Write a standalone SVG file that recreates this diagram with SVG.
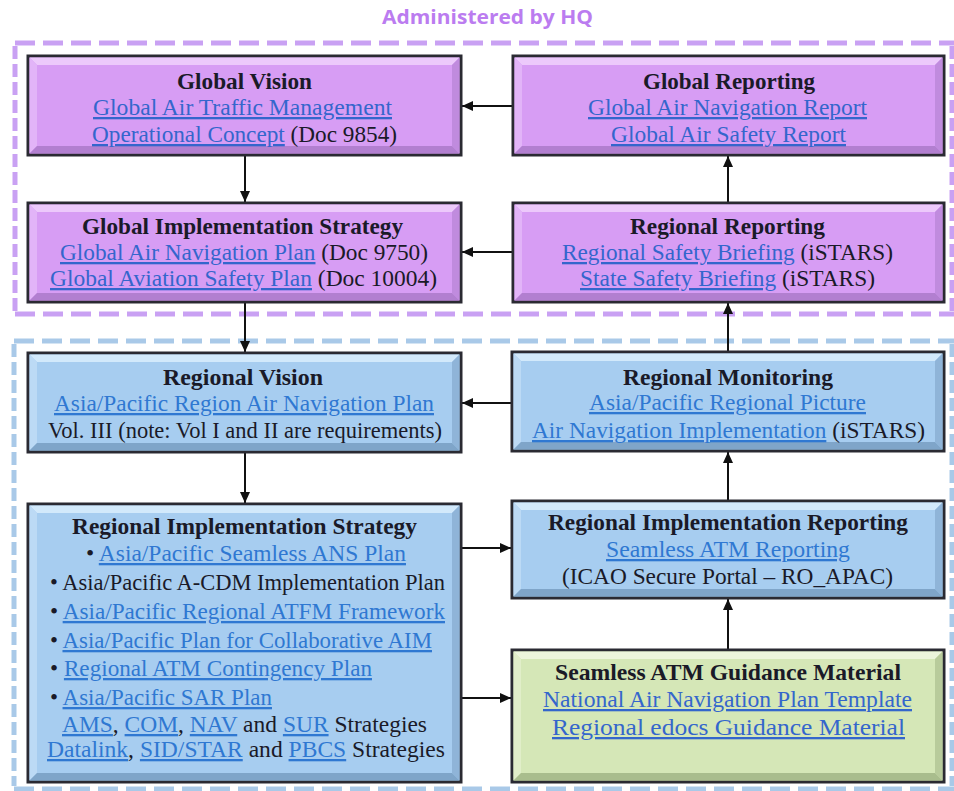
<svg xmlns="http://www.w3.org/2000/svg" width="954" height="791" viewBox="0 0 954 791">
<defs>
<style>
.t{font-family:"Liberation Serif","Times New Roman",serif;font-size:23px;fill:#1a1a28}
.b{font-weight:bold}
.l{fill:#3466cc;text-decoration:underline}
.lb{fill:#2f78d2;text-decoration:underline}
.box{stroke:#2a2a32;stroke-width:3}
.pur{fill:#d79df4}.pur-hi{fill:#ecc9fb}.pur-lt{fill:#e2b4f8}.pur-sh{fill:#b27fd0}.pur-rt{fill:#c08bde}
.blu{fill:#a7cdf0}.blu-hi{fill:#d2e9fb}.blu-lt{fill:#bcdaf5}.blu-sh{fill:#7fa5c9}.blu-rt{fill:#8fb4d8}
.grn{fill:#d5e7b7}.grn-hi{fill:#ecf5dc}.grn-lt{fill:#e1eec9}.grn-sh{fill:#a9bd8d}.grn-rt{fill:#b8cb9b}
.pd{stroke:#c9a1f3;stroke-width:5;fill:none}
.bd{stroke:#a9c9e8;stroke-width:5;fill:none}
.c{stroke:#111;stroke-width:2;fill:none;marker-end:url(#ah)}
</style>
<marker id="ah" markerUnits="userSpaceOnUse" markerWidth="12" markerHeight="12" refX="11" refY="6" orient="auto">
<path d="M0,1 L11,6 L0,11 z" fill="#111"/>
</marker>
</defs>
<rect width="954" height="791" fill="#ffffff"/>

<text x="382" y="24" font-family="'Open Sans','Liberation Sans',sans-serif" font-weight="700" font-size="19" fill="#bb7cf0" textLength="211" lengthAdjust="spacingAndGlyphs">Administered by HQ</text>

<g id="groups">
<line class="pd" x1="15" y1="43" x2="954" y2="43" stroke-dasharray="20 8"/>
<line class="pd" x1="15" y1="314" x2="954" y2="314" stroke-dasharray="20 8"/>
<line class="pd" x1="15" y1="46" x2="15" y2="312" stroke-dasharray="13 5"/>
<line class="pd" x1="952" y1="46" x2="952" y2="312" stroke-dasharray="13 5"/>
<line class="bd" x1="14" y1="341" x2="954" y2="341" stroke-dasharray="20 8"/>
<line class="bd" x1="14" y1="789" x2="954" y2="789" stroke-dasharray="20 8"/>
<line class="bd" x1="14" y1="344" x2="14" y2="786" stroke-dasharray="13 5"/>
<line class="bd" x1="952" y1="344" x2="952" y2="786" stroke-dasharray="13 5"/>
</g>

<g id="connectors">
<line class="c" x1="513" y1="106" x2="462" y2="106"/>
<line class="c" x1="513" y1="252" x2="462" y2="252"/>
<line class="c" x1="245" y1="155" x2="245" y2="202"/>
<line class="c" x1="728" y1="203" x2="728" y2="156"/>
<line class="c" x1="245" y1="302" x2="245" y2="352"/>
<line class="c" x1="728" y1="352" x2="728" y2="303"/>
<line class="c" x1="512" y1="403" x2="462" y2="403"/>
<line class="c" x1="245" y1="452" x2="245" y2="503"/>
<line class="c" x1="728" y1="501" x2="728" y2="452"/>
<line class="c" x1="462" y1="548" x2="511" y2="548"/>
<line class="c" x1="462" y1="698" x2="511" y2="698"/>
<line class="c" x1="728" y1="650" x2="728" y2="599"/>
</g>

<g id="global-vision">
<rect class="box pur" x="28" y="56" width="433" height="99"/>
<polygon class="pur-hi" points="29.5,57.5 459.5,57.5 452,65 37,65"/>
<polygon class="pur-lt" points="29.5,57.5 37,65 37,146 29.5,153.5"/>
<polygon class="pur-rt" points="459.5,57.5 459.5,153.5 452,146 452,65"/>
<polygon class="pur-sh" points="29.5,153.5 459.5,153.5 452,146 37,146"/>
<text class="t b" x="177" y="89" textLength="135" lengthAdjust="spacingAndGlyphs">Global Vision</text>
<text class="t" x="93" y="115" textLength="299" lengthAdjust="spacingAndGlyphs"><tspan class="l">Global Air Traffic Management</tspan></text>
<text class="t" x="92" y="142" textLength="305" lengthAdjust="spacingAndGlyphs"><tspan class="l">Operational Concept</tspan> (Doc 9854)</text>
</g>

<g id="global-reporting">
<rect class="box pur" x="513" y="56" width="431" height="99"/>
<polygon class="pur-hi" points="514.5,57.5 942.5,57.5 935,65 522,65"/>
<polygon class="pur-lt" points="514.5,57.5 522,65 522,146 514.5,153.5"/>
<polygon class="pur-rt" points="942.5,57.5 942.5,153.5 935,146 935,65"/>
<polygon class="pur-sh" points="514.5,153.5 942.5,153.5 935,146 522,146"/>
<text class="t b" x="643" y="89" textLength="172" lengthAdjust="spacingAndGlyphs">Global Reporting</text>
<text class="t" x="588" y="115" textLength="279" lengthAdjust="spacingAndGlyphs"><tspan class="l">Global Air Navigation Report</tspan></text>
<text class="t" x="611" y="142" textLength="235" lengthAdjust="spacingAndGlyphs"><tspan class="l">Global Air Safety Report</tspan></text>
</g>

<g id="global-implementation-strategy">
<rect class="box pur" x="28" y="203" width="433" height="99"/>
<polygon class="pur-hi" points="29.5,204.5 459.5,204.5 452,212 37,212"/>
<polygon class="pur-lt" points="29.5,204.5 37,212 37,293 29.5,300.5"/>
<polygon class="pur-rt" points="459.5,204.5 459.5,300.5 452,293 452,212"/>
<polygon class="pur-sh" points="29.5,300.5 459.5,300.5 452,293 37,293"/>
<text class="t b" x="82" y="234" textLength="321" lengthAdjust="spacingAndGlyphs">Global Implementation Strategy</text>
<text class="t" x="60" y="260" textLength="368" lengthAdjust="spacingAndGlyphs"><tspan class="l">Global Air Navigation Plan</tspan> (Doc 9750)</text>
<text class="t" x="50" y="286" textLength="387" lengthAdjust="spacingAndGlyphs"><tspan class="l">Global Aviation Safety Plan</tspan> (Doc 10004)</text>
</g>

<g id="regional-reporting">
<rect class="box pur" x="513" y="203" width="431" height="99"/>
<polygon class="pur-hi" points="514.5,204.5 942.5,204.5 935,212 522,212"/>
<polygon class="pur-lt" points="514.5,204.5 522,212 522,293 514.5,300.5"/>
<polygon class="pur-rt" points="942.5,204.5 942.5,300.5 935,293 935,212"/>
<polygon class="pur-sh" points="514.5,300.5 942.5,300.5 935,293 522,293"/>
<text class="t b" x="630" y="234" textLength="195" lengthAdjust="spacingAndGlyphs">Regional Reporting</text>
<text class="t" x="562" y="260" textLength="331" lengthAdjust="spacingAndGlyphs"><tspan class="l">Regional Safety Briefing</tspan> (iSTARS)</text>
<text class="t" x="580" y="286" textLength="295" lengthAdjust="spacingAndGlyphs"><tspan class="l">State Safety Briefing</tspan> (iSTARS)</text>
</g>

<g id="regional-vision">
<rect class="box blu" x="28" y="353" width="433" height="99"/>
<polygon class="blu-hi" points="29.5,354.5 459.5,354.5 452,362 37,362"/>
<polygon class="blu-lt" points="29.5,354.5 37,362 37,443 29.5,450.5"/>
<polygon class="blu-rt" points="459.5,354.5 459.5,450.5 452,443 452,362"/>
<polygon class="blu-sh" points="29.5,450.5 459.5,450.5 452,443 37,443"/>
<text class="t b" x="163" y="385" textLength="160" lengthAdjust="spacingAndGlyphs">Regional Vision</text>
<text class="t" x="54" y="411" textLength="380" lengthAdjust="spacingAndGlyphs"><tspan class="lb">Asia/Pacific Region Air Navigation Plan</tspan></text>
<text class="t" x="48" y="438" textLength="394" lengthAdjust="spacingAndGlyphs">Vol. III (note: Vol I and II are requirements)</text>
</g>

<g id="regional-monitoring">
<rect class="box blu" x="512" y="352" width="432" height="99"/>
<polygon class="blu-hi" points="513.5,353.5 942.5,353.5 935,361 521,361"/>
<polygon class="blu-lt" points="513.5,353.5 521,361 521,442 513.5,449.5"/>
<polygon class="blu-rt" points="942.5,353.5 942.5,449.5 935,442 935,361"/>
<polygon class="blu-sh" points="513.5,449.5 942.5,449.5 935,442 521,442"/>
<text class="t b" x="623" y="385" textLength="210" lengthAdjust="spacingAndGlyphs">Regional Monitoring</text>
<text class="t" x="589" y="410" textLength="277" lengthAdjust="spacingAndGlyphs"><tspan class="lb">Asia/Pacific Regional Picture</tspan></text>
<text class="t" x="532" y="438" textLength="393" lengthAdjust="spacingAndGlyphs"><tspan class="lb">Air Navigation Implementation</tspan> (iSTARS)</text>
</g>

<g id="regional-implementation-strategy">
<rect class="box blu" x="28" y="504" width="433" height="278"/>
<polygon class="blu-hi" points="29.5,505.5 459.5,505.5 452,513 37,513"/>
<polygon class="blu-lt" points="29.5,505.5 37,513 37,773 29.5,780.5"/>
<polygon class="blu-rt" points="459.5,505.5 459.5,780.5 452,773 452,513"/>
<polygon class="blu-sh" points="29.5,780.5 459.5,780.5 452,773 37,773"/>
<text class="t b" x="72" y="534" textLength="345" lengthAdjust="spacingAndGlyphs">Regional Implementation Strategy</text>
<text class="t" x="86" y="561" textLength="320" lengthAdjust="spacingAndGlyphs">• <tspan class="lb">Asia/Pacific Seamless ANS Plan</tspan></text>
<text class="t" x="50" y="590" textLength="395" lengthAdjust="spacingAndGlyphs">• Asia/Pacific A-CDM Implementation Plan</text>
<text class="t" x="50" y="619" textLength="395" lengthAdjust="spacingAndGlyphs">• <tspan class="lb">Asia/Pacific Regional ATFM Framework</tspan></text>
<text class="t" x="50" y="648" textLength="382" lengthAdjust="spacingAndGlyphs">• <tspan class="lb">Asia/Pacific Plan for Collaborative AIM</tspan></text>
<text class="t" x="50" y="676" textLength="322" lengthAdjust="spacingAndGlyphs">• <tspan class="lb">Regional ATM Contingency Plan</tspan></text>
<text class="t" x="50" y="705" textLength="222" lengthAdjust="spacingAndGlyphs">• <tspan class="lb">Asia/Pacific SAR Plan</tspan></text>
<text class="t" x="62" y="732" textLength="365" lengthAdjust="spacingAndGlyphs"><tspan class="lb">AMS</tspan>, <tspan class="lb">COM</tspan>, <tspan class="lb">NAV</tspan> and <tspan class="lb">SUR</tspan> Strategies</text>
<text class="t" x="47" y="757" textLength="398" lengthAdjust="spacingAndGlyphs"><tspan class="lb">Datalink</tspan>, <tspan class="lb">SID/STAR</tspan> and <tspan class="lb">PBCS</tspan> Strategies</text>
</g>

<g id="regional-implementation-reporting">
<rect class="box blu" x="512" y="501" width="432" height="97"/>
<polygon class="blu-hi" points="513.5,502.5 942.5,502.5 935,510 521,510"/>
<polygon class="blu-lt" points="513.5,502.5 521,510 521,589 513.5,596.5"/>
<polygon class="blu-rt" points="942.5,502.5 942.5,596.5 935,589 935,510"/>
<polygon class="blu-sh" points="513.5,596.5 942.5,596.5 935,589 521,589"/>
<text class="t b" x="548" y="530" textLength="360" lengthAdjust="spacingAndGlyphs">Regional Implementation Reporting</text>
<text class="t" x="606" y="557" textLength="244" lengthAdjust="spacingAndGlyphs"><tspan class="lb">Seamless ATM Reporting</tspan></text>
<text class="t" x="562" y="584" textLength="331" lengthAdjust="spacingAndGlyphs">(ICAO Secure Portal – RO_APAC)</text>
</g>

<g id="seamless-atm-guidance-material">
<rect class="box grn" x="512" y="650" width="432" height="132"/>
<polygon class="grn-hi" points="513.5,651.5 942.5,651.5 935,659 521,659"/>
<polygon class="grn-lt" points="513.5,651.5 521,659 521,773 513.5,780.5"/>
<polygon class="grn-rt" points="942.5,651.5 942.5,780.5 935,773 935,659"/>
<polygon class="grn-sh" points="513.5,780.5 942.5,780.5 935,773 521,773"/>
<text class="t b" x="555" y="680" textLength="346" lengthAdjust="spacingAndGlyphs">Seamless ATM Guidance Material</text>
<text class="t" x="543" y="707" textLength="369" lengthAdjust="spacingAndGlyphs"><tspan class="l">National Air Navigation Plan Template</tspan></text>
<text class="t" x="552" y="735" font-size="25" textLength="353" lengthAdjust="spacingAndGlyphs"><tspan class="l">Regional edocs Guidance Material</tspan></text>
</g>
</svg>
